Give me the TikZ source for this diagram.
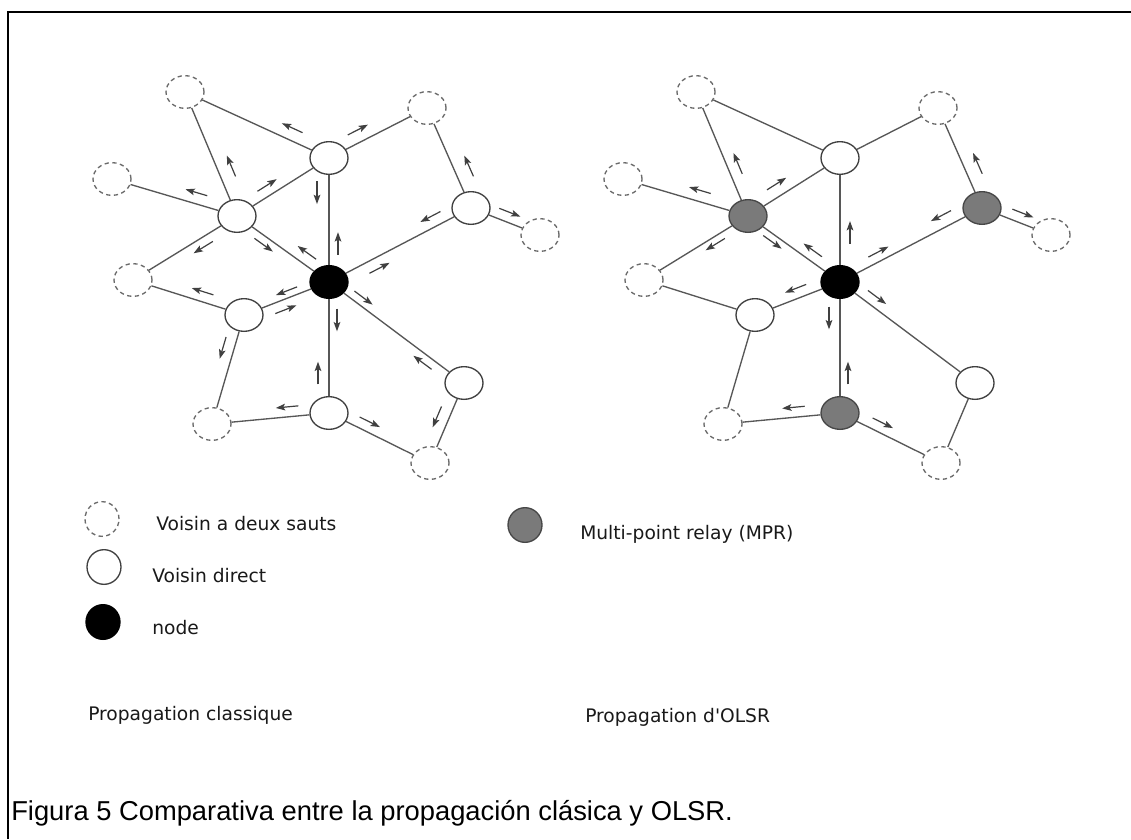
\documentclass[tikz,border=0pt]{standalone}
\usepackage{fontspec}
\setmainfont{DejaVu Sans}
\newfontfamily\capfont{Liberation Sans}
\usetikzlibrary{shapes.geometric,calc,arrows.meta}

\tikzset{
  peer/.style={ellipse, inner sep=0pt, minimum width=28.5pt, minimum height=24.5pt, line width=1pt},
  twohop/.style={peer, draw=black!58, dash pattern=on 3.2pt off 2.6pt, fill=white},
  direct/.style={peer, draw=black!75, fill=white},
  origin/.style={peer, draw=black, fill=black},
  relay/.style={peer, draw=black!72, fill=black!52},
  keysize/.style={minimum width=25.5pt, minimum height=26pt},
  link/.style={draw=black!66, line width=1pt},
  flowarr/.style={draw=black!75, line width=0.9pt, -{Stealth[length=7pt,width=5pt,inset=1.5pt]}},
  lbl/.style={anchor=base west, inner sep=0pt, text=black!90, font=\fontsize{14}{16}\selectfont},
  frameline/.style={draw=black, line width=1.5pt},
}

% one network: #1 name prefix, #2 horizontal shift,
% #3 / #4 / #5 styles of the upper-left, right and bottom neighbours
\newcommand\olsrnet[5]{%
  \begin{scope}[xshift=#2]
    \node[origin] (#1o)  at (329,282) {};
    \node[direct] (#1t)  at (329,158) {};
    \node[#3]     (#1ul) at (237,216) {};
    \node[#4]     (#1r)  at (471,208) {};
    \node[direct] (#1ll) at (244,315) {};
    \node[#5]     (#1b)  at (329,413) {};
    \node[direct] (#1lr) at (464,383) {};
    \node[twohop] (#1dtl) at (185,92) {};
    \node[twohop] (#1dtr) at (427,108) {};
    \node[twohop] (#1dl)  at (112,179) {};
    \node[twohop] (#1dr)  at (540,235) {};
    \node[twohop] (#1dll) at (133,280) {};
    \node[twohop] (#1dbl) at (212,424) {};
    \node[twohop] (#1dbr) at (430,463) {};
  \end{scope}
  \foreach \a/\b in {o/t, o/ul, o/r, o/ll, o/b, o/lr, t/dtl, t/dtr, t/ul,
                     dtl/ul, ul/dl, ul/dll, dll/ll, r/dtr, r/dr, ll/dbl,
                     b/dbl, b/dbr, lr/dbr}
    \draw[link] (#1\a) -- (#1\b);
}

% small propagation arrow beside the link #1--#2, centred at fraction #3,
% pointing towards #2, offset #4 (px) to the left of its direction
\newcommand\flow[4]{%
  \draw[flowarr] ($(#1)!#3!(#2)!-8.5pt!(#2)!#4*0.75pt!90:(#2)$)
              -- ($(#1)!#3!(#2)!8.5pt!(#2)!#4*0.75pt!90:(#2)$);}

\begin{document}
\begin{tikzpicture}[x=0.75pt,y=-0.75pt]
\useasboundingbox (0,0) rectangle (1131,839);
\fill[white] (0,0) rectangle (1131,839);
\draw[frameline] (8,839) -- (8,12) -- (1131,12);

% classic flooding
\olsrnet{L}{0pt}{direct}{direct}{direct}
\foreach \a/\b/\t/\s in {t/dtl/0.29/-12, t/dtr/0.35/12, t/o/0.28/-12, o/t/0.31/-9,
    ul/dtl/0.36/-14, ul/dl/0.35/-11, ul/t/0.385/10, ul/dll/0.37/9, ul/o/0.34/-8,
    o/ul/0.31/-11, r/dtr/0.36/-15, r/o/0.25/-11, r/dr/0.51/10, o/r/0.32/-11,
    o/lr/0.22/8, ll/dll/0.40/-10, o/ll/0.47/-7, ll/o/0.45/-10, ll/dbl/0.33/-11,
    o/b/0.29/8, b/o/0.305/11, lr/o/0.27/8.5, b/dbl/0.35/-10, b/dbr/0.36/10,
    lr/dbr/0.48/-11.5}
  {\flow{L\a}{L\b}{\t}{\s}}

% OLSR flooding through the relays
\olsrnet{R}{383.25pt}{relay}{relay}{relay}
\foreach \a/\b/\t/\s in {ul/dtl/0.39/-11, ul/dl/0.41/-11, ul/t/0.38/12, ul/dll/0.35/7,
    ul/o/0.31/-7, o/ul/0.36/-10, o/t/0.40/-10, o/r/0.30/9, r/dtr/0.39/-14,
    r/o/0.25/-12, r/dr/0.54/10, o/ll/0.48/-10, o/lr/0.23/10, o/b/0.275/-11,
    b/o/0.305/-8, b/dbl/0.39/-10, b/dbr/0.38/10}
  {\flow{R\a}{R\b}{\t}{\s}}

% legend
\node[twohop, keysize] (k2) at (102,519) {};
\node[direct, keysize] (k1) at (104,567) {};
\node[origin, keysize] (k0) at (103,622) {};
\node[relay,  keysize] (kr) at (525,525) {};
\node[lbl] (t2) at (156,530) {Voisin a deux sauts};
\node[lbl] (t1) at (152,582) {Voisin direct};
\node[lbl] (t0) at (152,634) {node};
\node[lbl] (tr) at (580,539) {Multi-point relay (MPR)};
\node[lbl] (tc) at (88,720) {Propagation classique};
\node[lbl] (to) at (585,722) {Propagation d\textquotesingle OLSR};

\node[anchor=base west, inner sep=0pt, font=\capfont\fontsize{20.5}{24}\selectfont]
  (cap) at (11,820) {Figura 5 Comparativa entre la propagación clásica y OLSR.};
\end{tikzpicture}
\end{document}
